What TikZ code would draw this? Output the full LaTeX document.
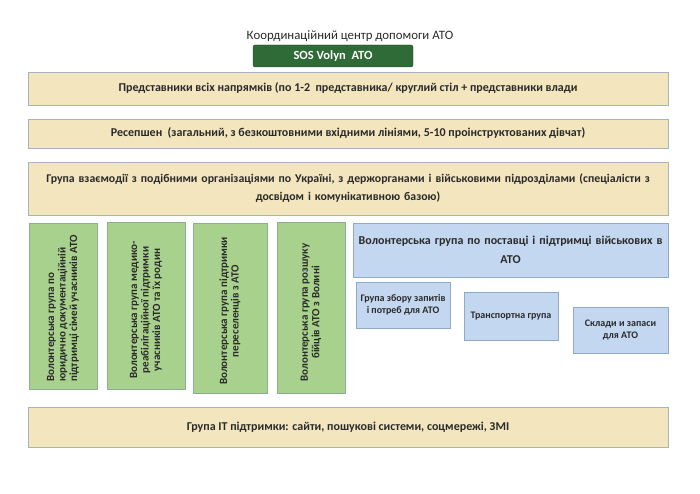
\documentclass[tikz,border=0pt]{standalone}
\usepackage{fontspec}
\setmainfont{Carlito}
\definecolor{parch}{HTML}{F3E5BE}
\definecolor{parchline}{HTML}{A7B4BE}
\definecolor{grn}{HTML}{A9D18E}
\definecolor{grnline}{HTML}{8DAE95}
\definecolor{blu}{HTML}{C3D8F0}
\definecolor{bluline}{HTML}{8FA9C9}
\definecolor{sosgreen}{HTML}{2F6B36}
\definecolor{txt}{HTML}{2A2A2A}
\tikzset{
  wide/.style={draw=parchline, line width=0.8pt, fill=parch, minimum width=640pt, text=txt, font=\fontsize{12}{15}\selectfont\bfseries, align=center, inner sep=0pt},
  gbox/.style={draw=grnline, line width=0.8pt, fill=grn, text=txt, inner sep=0pt},
  gtext/.style={rotate=90, align=center, text=txt, font=\fontsize{11}{11.5}\selectfont\bfseries},
  bbox/.style={draw=bluline, line width=0.8pt, fill=blu, text=txt, align=center, inner sep=0pt, font=\fontsize{10}{11.5}\selectfont\bfseries},
}
\begin{document}
\begin{tikzpicture}[x=1pt,y=-1pt]
\useasboundingbox (0,0) rectangle (700,494);
\node[text=txt, font=\fontsize{12.8}{14}\selectfont] (title) at (350,36) {Координаційний центр  допомоги АТО};
\node[draw=sosgreen!70!black, fill=sosgreen, rounded corners=2pt, minimum width=160pt, minimum height=22pt, text=white, font=\fontsize{12.5}{14}\selectfont\bfseries, inner sep=0pt] (sos) at (333,56) {SOS Volyn\ \ ATO};
\node[wide, minimum height=33pt] (rep) at (348,88.5) {Представники всіх напрямків (по 1-2 \ представника/ круглий стіл + представники влади};
\node[wide, minimum height=29pt] (rec) at (348,133.5) {Ресепшен \ (загальний, з безкоштовними вхідними лініями, 5-10 проінструктованих дівчат)};
\node[wide, minimum height=53pt, text width=632pt, font=\fontsize{11.8}{18}\selectfont\bfseries] (int) at (348,188.5) {Група взаємодії з подібними організаціями по Україні, з держорганами і військовими підрозділами (спеціалісти з\\ досвідом і комунікативною базою)};
\node[gbox, minimum width=68pt, minimum height=166pt] (g1) at (63,306) {};
\node[gtext, align=left, anchor=west] (g1t) at ([yshift=4pt]g1.south) {Волонтерська група по\\ юридично документаційній\\ підтримці сімей учасників АТО};
\node[gbox, minimum width=78pt, minimum height=167pt] (g2) at (146,306) {};
\node[gtext] (g2t) at ([yshift=-4pt]g2.center) {Волонтерська група медико-\\ реабілітаційної підтримки\\ учасників АТО та їх родин};
\node[gbox, minimum width=74pt, minimum height=170pt] (g3) at (230,308) {};
\node[gtext] (g3t) at ([yshift=-3pt]g3.center) {Волонтерська група підтримки\\ переселенців з АТО};
\node[gbox, minimum width=68pt, minimum height=171pt] (g4) at (311,307.5) {};
\node[gtext] (g4t) at ([yshift=-5pt]g4.center) {Волонтерська група розшуку\\ бійців АТО з Волині};
\node[bbox, minimum width=315pt, minimum height=54pt, text width=308pt, font=\fontsize{12}{19.5}\selectfont\bfseries] (sup) at (510.5,250) {Волонтерська група по поставці і підтримці військових в\\ АТО};
\node[bbox, minimum width=94pt, minimum height=46pt] (b1) at (403,305) {Група збору запитів\\ і потреб для АТО};
\node[bbox, minimum width=94pt, minimum height=48pt] (b2) at (511,316) {Транспортна група};
\node[bbox, minimum width=95pt, minimum height=46pt] (b3) at (620.5,330) {Склади и запаси\\ для АТО};
\node[wide, minimum height=40pt] (it) at (348,427) {Група IT підтримки: сайти, пошукові системи, соцмережі, ЗМІ};
\end{tikzpicture}
\end{document}
